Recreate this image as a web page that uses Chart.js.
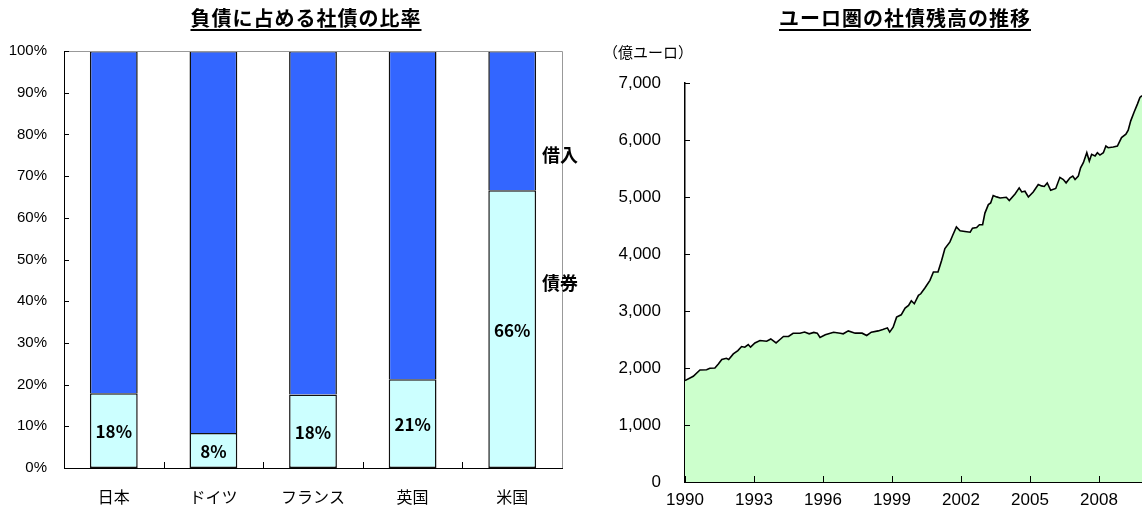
<!DOCTYPE html>
<html>
<head>
<meta charset="utf-8">
<script src="https://cdn.jsdelivr.net/npm/chart.js@4/dist/chart.umd.min.js"></script>
<style>
  body { margin: 0; background: #fff; width: 1142px; height: 522px; overflow: hidden; position: relative; font-family: "Noto Sans CJK JP", sans-serif; }
  .box { position: absolute; top: 0; height: 522px; }
  .title { position: absolute; top: 3px; font-weight: bold; font-size: 20px; letter-spacing: 1px; text-decoration: underline; text-underline-offset: 3px; transform: translateX(-50%); white-space: nowrap; color: #000; }
  .note { position: absolute; font-size: 18px; font-weight: bold; color: #000; white-space: nowrap; }
</style>
</head>
<body>
<div class="box" style="left:0;width:600px"><canvas id="share-chart"></canvas></div>
<div class="box" style="left:600px;width:542px"><canvas id="bond-chart"></canvas></div>
<div class="title" style="left:306px">負債に占める社債の比率</div>
<div class="title" style="left:905px">ユーロ圏の社債残高の推移</div>
<div class="note" style="left:542px;top:141px">借入</div>
<div class="note" style="left:542px;top:269px">債券</div>
<div class="note" style="left:603px;top:41px;font-weight:normal;font-size:15px">（億ユーロ）</div>
<script>
// 左: 負債に占める社債の比率 (%)
const countries = ["日本", "ドイツ", "フランス", "英国", "米国"];
const bondShare = [17.9, 8.4, 17.6, 21.3, 66.6];
const loanShare = [82.1, 91.6, 82.4, 78.7, 33.4];
const bondLabels = ["18%", "8%", "18%", "21%", "66%"];

// 右: ユーロ圏の社債残高 (億ユーロ)
const years = [
  1990.00, 1990.36, 1990.65, 1990.94, 1991.08, 1991.30, 1991.45, 1991.60, 1991.80, 1991.90,
  1992.10, 1992.30, 1992.46, 1992.60, 1992.75, 1992.85, 1993.04, 1993.26, 1993.55, 1993.73,
  1993.96, 1994.13, 1994.28, 1994.50, 1994.70, 1995.00, 1995.20, 1995.40, 1995.60, 1995.75,
  1995.87, 1996.10, 1996.46, 1996.75, 1996.88, 1997.10, 1997.40, 1997.70, 1997.90, 1998.10,
  1998.40, 1998.60, 1998.80, 1998.90, 1999.05, 1999.20, 1999.40, 1999.57, 1999.72, 1999.84,
  1999.97, 2000.15, 2000.25, 2000.43, 2000.65, 2000.80, 2001.00, 2001.16, 2001.30, 2001.52,
  2001.64, 2001.80, 2001.96, 2002.17, 2002.40, 2002.50, 2002.68, 2002.80, 2002.94, 2003.04,
  2003.19, 2003.29, 2003.40, 2003.55, 2003.70, 2003.97, 2004.10, 2004.35, 2004.53, 2004.64,
  2004.78, 2004.93, 2005.14, 2005.36, 2005.50, 2005.62, 2005.75, 2005.90, 2006.12, 2006.30,
  2006.45, 2006.57, 2006.74, 2006.86, 2006.96, 2007.10, 2007.20, 2007.32, 2007.47, 2007.58,
  2007.68, 2007.83, 2007.93, 2008.04, 2008.19, 2008.30, 2008.40, 2008.62, 2008.80, 2008.98,
  2009.17, 2009.27, 2009.38, 2009.52, 2009.67, 2009.78, 2009.87
];
const outstanding = [
  1780, 1855, 1965, 1970, 1995, 2000, 2070, 2148, 2170, 2148,
  2247, 2306, 2376, 2365, 2411, 2365, 2440, 2482, 2470, 2510,
  2440, 2500, 2553, 2553, 2610, 2610, 2630, 2600, 2625, 2611,
  2535, 2584, 2628, 2611, 2600, 2651, 2611, 2611, 2570, 2628,
  2651, 2675, 2704, 2630, 2716, 2892, 2933, 3050, 3098, 3180,
  3127, 3274, 3302, 3403, 3538, 3684, 3684, 3890, 4094, 4212,
  4330, 4476, 4407, 4396, 4383, 4453, 4465, 4513, 4513, 4718,
  4866, 4895, 5025, 5002, 4983, 4995, 4937, 5054, 5160, 5089,
  5101, 5000, 5089, 5219, 5195, 5185, 5248, 5119, 5150, 5345,
  5307, 5248, 5336, 5366, 5307, 5366, 5512, 5601, 5777, 5630,
  5748, 5718, 5777, 5736, 5777, 5895, 5865, 5877, 5895, 6042,
  6101, 6172, 6336, 6483, 6630, 6748, 6777
];
const yearTicks = [1990, 1993, 1996, 1999, 2002, 2005, 2008];

Chart.defaults.font.family = '"Noto Sans CJK JP", sans-serif';
Chart.defaults.color = "#000";

const shareExtras = {
  id: "shareExtras",
  afterDraw(chart) {
    const { ctx, chartArea: a, scales: { x, y } } = chart;
    ctx.save();
    ctx.lineWidth = 1;
    ctx.strokeStyle = "#999";
    ctx.beginPath();
    ctx.moveTo(a.left, a.top + 0.5);
    ctx.lineTo(a.right + 0.5, a.top + 0.5);
    ctx.lineTo(a.right + 0.5, a.bottom);
    ctx.stroke();
    ctx.strokeStyle = "#000";
    ctx.beginPath();
    y.ticks.forEach((t) => {
      const py = Math.round(y.getPixelForValue(t.value)) + 0.5;
      ctx.moveTo(a.left, py);
      ctx.lineTo(a.left + 5, py);
    });
    for (let i = 1; i < countries.length; i++) {
      const px = Math.round((x.getPixelForValue(i - 1) + x.getPixelForValue(i)) / 2) + 0.5;
      ctx.moveTo(px, a.bottom);
      ctx.lineTo(px, a.bottom - 6);
    }
    ctx.stroke();
    ctx.font = 'bold 17px "Noto Sans CJK JP"';
    ctx.fillStyle = "#000";
    ctx.textAlign = "center";
    ctx.textBaseline = "middle";
    chart.getDatasetMeta(0).data.forEach((bar, i) => {
      const p = bar.getProps(["x", "y", "base"], true);
      ctx.fillText(bondLabels[i], p.x, (p.y + p.base) / 2 + 1);
    });
    ctx.restore();
  },
};

new Chart(document.getElementById("share-chart"), {
  type: "bar",
  data: {
    labels: countries,
    datasets: [
      {
        label: "債券",
        data: bondShare,
        backgroundColor: "#CCFFFF",
        borderColor: "#111",
        borderWidth: 1.5,
        borderSkipped: false,
        barPercentage: 0.48,
        categoryPercentage: 1,
      },
      {
        label: "借入",
        data: loanShare,
        backgroundColor: "#3366FF",
        borderColor: "#111",
        borderWidth: 1.5,
        borderSkipped: "start",
        barPercentage: 0.48,
        categoryPercentage: 1,
      },
    ],
  },
  options: {
    responsive: true,
    maintainAspectRatio: false,
    animation: false,
    layout: { padding: { top: 51, right: 38, left: 0, bottom: 0 } },
    plugins: { legend: { display: false }, tooltip: { enabled: false } },
    scales: {
      x: {
        stacked: true,
        grid: { display: false },
        border: { color: "#000", width: 1 },
        ticks: { padding: 11, font: { size: 16 } },
        afterFit: (s) => { s.height = 54; },
      },
      y: {
        stacked: true,
        min: 0,
        max: 100,
        grid: { display: false },
        border: { color: "#000", width: 1 },
        ticks: {
          stepSize: 10,
          padding: 9,
          font: { family: '"Liberation Sans", Arial', size: 15 },
          callback: (v) => v + "%",
        },
        afterFit: (s) => { s.width = 64; },
      },
    },
  },
  plugins: [shareExtras],
});

const bondExtras = {
  id: "bondExtras",
  afterDraw(chart) {
    const { ctx, chartArea: a, scales: { x, y } } = chart;
    ctx.save();
    ctx.lineWidth = 1;
    ctx.strokeStyle = "#000";
    ctx.beginPath();
    y.ticks.forEach((t) => {
      const py = Math.round(y.getPixelForValue(t.value)) + 0.5;
      ctx.moveTo(a.left, py);
      ctx.lineTo(a.left + 5, py);
    });
    x.ticks.forEach((t) => {
      const px = Math.round(x.getPixelForValue(t.value)) + 0.5;
      ctx.moveTo(px, a.bottom);
      ctx.lineTo(px, a.bottom - 6);
    });
    ctx.stroke();
    ctx.restore();
  },
};

new Chart(document.getElementById("bond-chart"), {
  type: "line",
  data: {
    datasets: [
      {
        data: years.map((yr, i) => ({ x: yr, y: outstanding[i] })),
        borderColor: "#000",
        borderWidth: 1.6,
        backgroundColor: "#CCFFCC",
        fill: "origin",
        pointRadius: 0,
        tension: 0,
      },
    ],
  },
  options: {
    responsive: true,
    maintainAspectRatio: false,
    animation: false,
    layout: { padding: { top: 83, right: 0, left: 0, bottom: 0 } },
    plugins: { legend: { display: false }, tooltip: { enabled: false } },
    scales: {
      x: {
        type: "linear",
        min: 1990,
        max: 2009.87,
        grid: { display: false },
        border: { color: "#000", width: 2 },
        afterBuildTicks: (s) => { s.ticks = yearTicks.map((v) => ({ value: v })); },
        ticks: {
          padding: 0,
          maxRotation: 0,
          autoSkip: false,
          font: { family: '"Liberation Sans", Arial', size: 17 },
          callback: (v) => String(v),
        },
        afterFit: (s) => { s.height = 40; },
      },
      y: {
        min: 0,
        max: 7000,
        grid: { display: false },
        border: { color: "#000", width: 1.5 },
        ticks: {
          stepSize: 1000,
          padding: 16,
          font: { family: '"Liberation Sans", Arial', size: 17 },
          callback: (v) => v.toLocaleString("en-US"),
        },
        afterFit: (s) => { s.width = 85; },
      },
    },
  },
  plugins: [bondExtras],
});
</script>
</body>
</html>
